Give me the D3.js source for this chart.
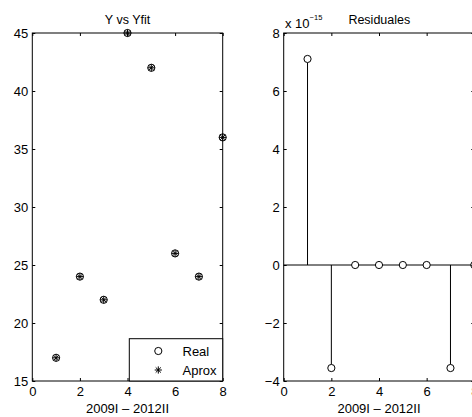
<!DOCTYPE html>
<html>
<head>
<meta charset="utf-8">
<script src="https://cdn.jsdelivr.net/npm/d3@7"></script>
<style>
  html, body { margin: 0; padding: 0; background: #fff; }
  svg { display: block; font-family: "Liberation Sans", Arial, Helvetica, sans-serif; }
  text { fill: #000; }
</style>
</head>
<body>
<svg id="chart" width="472" height="417"></svg>
<script>
// quarters 2009I – 2012II, numbered 1..8
const periods = [1, 2, 3, 4, 5, 6, 7, 8];
const yReal = [17, 24, 22, 45, 42, 26, 24, 36];
const yAprox = [17, 24, 22, 45, 42, 26, 24, 36];
const residuals = [7.105e-15, -3.553e-15, 0, 0, 0, 0, -3.553e-15, 0];

const xTicks = [0, 2, 4, 6, 8];
const leftYTicks = [15, 20, 25, 30, 35, 40, 45];
const rightYTicks = [-4e-15, -2e-15, 0, 2e-15, 4e-15, 6e-15, 8e-15];
const legendLabels = ['Real', 'Aprox'];

const svg = d3.select('#chart');
const plotTop = 33, plotBottom = 381, tickLen = 3, fs = 13;

function drawAxesBox(g, x, y, yTicks, yFmt) {
  const [x0, x1] = x.range();
  const [y0, y1] = y.range();
  const axB = g.append('g').attr('transform', `translate(0,${y0})`)
    .call(d3.axisBottom(x).tickValues(xTicks).tickSizeInner(-tickLen).tickSizeOuter(0).tickPadding(6));
  const axT = g.append('g').attr('transform', `translate(0,${y1})`)
    .call(d3.axisTop(x).tickValues(xTicks).tickSizeInner(-tickLen).tickSizeOuter(0).tickFormat(''));
  const axL = g.append('g').attr('transform', `translate(${x0},0)`)
    .call(d3.axisLeft(y).tickValues(yTicks).tickSizeInner(-tickLen).tickSizeOuter(0).tickPadding(4).tickFormat(yFmt));
  const axR = g.append('g').attr('transform', `translate(${x1},0)`)
    .call(d3.axisRight(y).tickValues(yTicks).tickSizeInner(-tickLen).tickSizeOuter(0).tickFormat(''));
  [axB, axT, axL, axR].forEach(a => {
    a.selectAll('.domain').remove();
    a.selectAll('line').attr('stroke', '#000');
    a.selectAll('text').attr('font-size', fs).attr('font-family', null).attr('fill', '#000');
  });
  g.append('rect').attr('x', x0).attr('y', y1).attr('width', x1 - x0).attr('height', y0 - y1)
    .attr('fill', 'none').attr('stroke', '#000').attr('stroke-width', 1);
}

function circle(g, cx, cy) {
  g.append('circle').attr('cx', cx).attr('cy', cy).attr('r', 3.6)
    .attr('fill', 'none').attr('stroke', '#000').attr('stroke-width', 1);
}
function asterisk(g, cx, cy) {
  const r = 3.6, d = r * 0.72;
  const p = `M${cx - r},${cy}H${cx + r}M${cx},${cy - r}V${cy + r}` +
    `M${cx - d},${cy - d}L${cx + d},${cy + d}M${cx - d},${cy + d}L${cx + d},${cy - d}`;
  g.append('path').attr('d', p).attr('stroke', '#000').attr('stroke-width', 1).attr('fill', 'none');
}

// ---- left: Y vs Yfit
const xL = d3.scaleLinear().domain([0, 8]).range([32.3, 222.7]);
const yL = d3.scaleLinear().domain([15, 45]).range([plotBottom, plotTop]);
const gL = svg.append('g');

const marksL = gL.append('g');
periods.forEach((p, i) => circle(marksL, xL(p), yL(yReal[i])));
periods.forEach((p, i) => asterisk(marksL, xL(p), yL(yAprox[i])));

drawAxesBox(gL, xL, yL, leftYTicks, d3.format('d'));

gL.append('text').attr('x', (xL(0) + xL(8)) / 2).attr('y', 24).attr('text-anchor', 'middle')
  .attr('font-size', 12.5).text('Y vs Yfit');
gL.append('text').attr('x', (xL(0) + xL(8)) / 2).attr('y', 413).attr('text-anchor', 'middle')
  .attr('font-size', fs).text('2009I \u2013 2012II');

// legend
const leg = gL.append('g');
leg.append('rect').attr('x', 129.3).attr('y', 338.7).attr('width', xL(8) - 129.3).attr('height', plotBottom - 338.7)
  .attr('fill', '#fff').attr('stroke', '#000').attr('stroke-width', 1);
legendLabels.forEach((label, i) => {
  const cy = 351 + i * 19;
  if (i === 0) circle(leg, 158.3, cy); else asterisk(leg, 158.3, cy);
  leg.append('text').attr('x', 182.5).attr('y', cy + 4.5).attr('font-size', fs).text(label);
});

// ---- right: Residuales
const xR = d3.scaleLinear().domain([0, 8]).range([283.7, 474.3]);
const yR = d3.scaleLinear().domain([-4e-15, 8e-15]).range([plotBottom, plotTop]);
const gR = svg.append('g');

gR.append('line').attr('x1', xR(0)).attr('x2', xR(8)).attr('y1', yR(0)).attr('y2', yR(0))
  .attr('stroke', '#000').attr('stroke-width', 1);
const stems = gR.append('g');
periods.forEach((p, i) => {
  const v = residuals[i];
  const cy = yR(v);
  if (v !== 0) {
    const end = v > 0 ? cy + 3.6 : cy - 3.6;
    stems.append('line').attr('x1', xR(p)).attr('x2', xR(p)).attr('y1', yR(0)).attr('y2', end)
      .attr('stroke', '#000').attr('stroke-width', 1);
  }
  stems.append('circle').attr('cx', xR(p)).attr('cy', cy).attr('r', 3.6)
    .attr('fill', '#fff').attr('stroke', '#000').attr('stroke-width', 1);
});

drawAxesBox(gR, xR, yR, rightYTicks, d => d3.format('d')(Math.round(d / 1e-15)).replace('-', '\u2212'));

gR.append('text').attr('x', 379.3).attr('y', 24).attr('text-anchor', 'middle')
  .attr('font-size', 12.5).text('Residuales');
const expo = gR.append('text').attr('x', 285).attr('y', 28).attr('font-size', fs);
expo.append('tspan').text('x 10');
expo.append('tspan').attr('dy', -8).attr('font-size', 7.5).text('\u221215');
gR.append('text').attr('x', (xR(0) + xR(8)) / 2).attr('y', 413).attr('text-anchor', 'middle')
  .attr('font-size', fs).text('2009I \u2013 2012II');
</script>
</body>
</html>
